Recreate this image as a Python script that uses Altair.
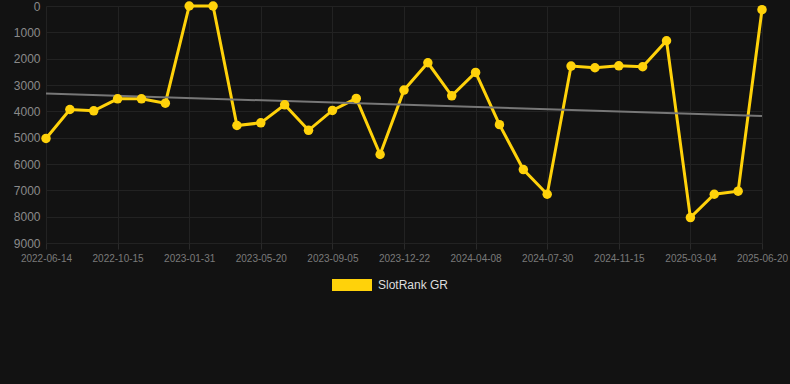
import altair as alt
import pandas as pd

dates = [
    "2022-06-14", "2022-07-25", "2022-09-04", "2022-10-15", "2022-11-20", "2022-12-26",
    "2023-01-31", "2023-03-08", "2023-04-13", "2023-05-20", "2023-06-25", "2023-07-31",
    "2023-09-05", "2023-10-11", "2023-11-16", "2023-12-22", "2024-01-27", "2024-03-03",
    "2024-04-08", "2024-05-16", "2024-06-23", "2024-07-30", "2024-09-04", "2024-10-10",
    "2024-11-15", "2024-12-21", "2025-01-26", "2025-03-04", "2025-04-09", "2025-05-15",
    "2025-06-20",
]
ranks = [
    5030, 3930, 3980, 3525, 3525, 3690, 0, 0, 4538, 4437, 3752, 4720, 3966, 3510,
    5640, 3194, 2155, 3410, 2522, 4505, 6210, 7148, 2281, 2345, 2270, 2307, 1319,
    8035, 7148, 7034, 140,
]
series_name = "SlotRank GR"
y_ticks = [0, 1000, 2000, 3000, 4000, 5000, 6000, 7000, 8000, 9000]

df = pd.DataFrame({
    "idx": list(range(len(dates))),
    "date": dates,
    "rank": ranks,
    "series": [series_name] * len(dates),
})

label_array = "[" + ",".join(f"'{d}'" for d in dates) + "]"

x_enc = alt.X(
    "idx:Q",
    scale=alt.Scale(domain=[0, len(dates) - 1], nice=False, zero=False),
    axis=alt.Axis(
        values=list(range(0, len(dates), 3)),
        labelExpr=f"{label_array}[datum.value]",
        title=None,
        labelColor="#7a7a7a",
        labelFontSize=10,
        labelFont="Arial",
        labelPadding=4,
        labelFlush=False,
        labelOverlap=False,
        tickColor="#2a2a2a",
        tickSize=6,
        gridColor="#222222",
        domain=False,
    ),
)
y_enc = alt.Y(
    "rank:Q",
    scale=alt.Scale(domain=[0, 9000], reverse=True, nice=False),
    axis=alt.Axis(
        values=y_ticks,
        format="d",
        title=None,
        labelColor="#8a8a8a",
        labelFontSize=12,
        labelFont="Arial",
        labelPadding=6,
        labelFlush=False,
        labelOverlap=False,
        ticks=False,
        gridColor="#222222",
        domain=False,
    ),
)

base = alt.Chart(df)

line = base.mark_line(color="#FFD20A", strokeWidth=3, clip=False).encode(x=x_enc, y=y_enc)

points = base.mark_circle(size=90, opacity=1, clip=False).encode(
    x=x_enc,
    y=y_enc,
    color=alt.Color(
        "series:N",
        scale=alt.Scale(domain=[series_name], range=["#FFD20A"]),
        legend=alt.Legend(
            title=None,
            orient="none",
            legendX=286,
            legendY=259,
            direction="horizontal",
            symbolType="M-1,-0.3H1V0.3H-1Z",
            symbolSize=1600,
            symbolStrokeWidth=0,
            symbolOpacity=1,
            labelColor="#dddddd",
            labelFontSize=12,
            labelFont="Arial",
            labelOffset=6,
            padding=0,
        ),
    ),
)

trend = base.transform_regression("idx", "rank", method="linear").mark_line(
    color="#777777", strokeWidth=2
).encode(x=x_enc, y=y_enc)

chart = (
    alt.layer(line, trend, points)
    .properties(
        width=716,
        height=237,
        background="#121212",
        padding={"left": 46, "top": 6, "right": 28, "bottom": 141},
        autosize=alt.AutoSizeParams(type="none"),
    )
    .configure_view(stroke=None)
)

chart.save("out.html", embed_options={"renderer": "svg", "actions": False})
